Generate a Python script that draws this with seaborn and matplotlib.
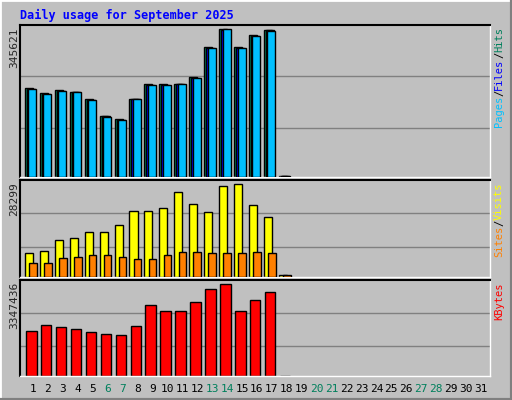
import matplotlib
matplotlib.use("Agg")
import matplotlib.pyplot as plt
import seaborn as sns
import numpy as np
from matplotlib.lines import Line2D

sns.set_style("white")
plt.rcParams['font.family'] = ['DejaVu Sans Mono']

days = list(range(1, 32))
hits = [208000,195500,203300,198600,182200,143900,135300,182200,217400,217400,217400,233800,303400,345621,303400,332300,345000,2000]
files = [206500,194000,201800,198000,180800,142500,134000,182000,216000,216000,217000,232300,302000,345000,302000,330800,343000,1500]
pages = [205700,193200,201000,198000,179900,141600,133000,182200,215100,215100,217400,231500,301100,345621,301100,330000,342700,1500]
visits = [7458,7867,11442,12055,13690,13690,15733,20024,20024,20943,25847,22169,19717,27686,28299,21863,18185,650]
sites = [4393,4393,5925,6232,6845,6845,6232,5619,5619,6845,7764,7764,7458,7458,7458,7764,7458,650]
kbytes = [1661500,1844700,1771400,1734800,1624900,1551500,1514900,1808100,2577800,2357900,2357900,2687700,3164200,3347436,2357900,2761000,3054200,12000]
weekend = [6,7,13,14,20,21,27,28]

W, H = 512, 400
fig = plt.figure(figsize=(W/100, H/100), dpi=100, facecolor="#C0C0C0")
fig.add_artist(Line2D([0,0],[0,1], transform=fig.transFigure, color="white", lw=2))
fig.add_artist(Line2D([0,1],[1,1], transform=fig.transFigure, color="white", lw=2))
fig.add_artist(Line2D([1,1],[0,1], transform=fig.transFigure, color="#808080", lw=3))
fig.add_artist(Line2D([0,1],[0,0], transform=fig.transFigure, color="#808080", lw=3))

fig.text(20/W, 1-15/H, "Daily usage for September 2025", color="#0000FF",
         fontsize=8.5, fontweight="bold", va="center", ha="left")

def mkax(top, bot):
    ax = fig.add_axes([20/W, 1-bot/H, 470/W, (bot-top)/H])
    ax.set_facecolor("#C0C0C0")
    ax.set_xlim(0.13, 31.61)
    ax.set_xticks([]); ax.set_yticks([])
    for s in ["top", "left"]:
        ax.spines[s].set_color("black"); ax.spines[s].set_linewidth(1.5)
    for s in ["right", "bottom"]:
        ax.spines[s].set_color("white"); ax.spines[s].set_linewidth(1)
    return ax

px = 1/14.93
ecol = "black"
d = np.arange(1, len(hits)+1)

ax1 = mkax(25, 177)
m1 = max(hits)
ax1.set_ylim(0, m1*455/442)
for g in (148/455, 301/455):
    ax1.axhline(g*m1*455/442, color="#808080", lw=1, zorder=0)
ax1.bar(d-4*px, hits, width=8*px, color="#00805C", edgecolor=ecol, lw=1, zorder=2)
ax1.bar(d-2*px, files, width=8*px, color="#0000FF", edgecolor=ecol, lw=1, zorder=3)
ax1.bar(d-0.5*px, pages, width=8*px, color="#00C0FF", edgecolor=ecol, lw=1, zorder=4)
fig.text(14/W, 1-27/H, str(m1), rotation=90, fontsize=8, va="top", ha="center")

ax2 = mkax(180, 277)
m2 = max(visits)
ax2.set_ylim(0, m2*290/277)
for g in (90/290, 190/290):
    ax2.axhline(g*m2*290/277, color="#808080", lw=1, zorder=0)
ax2.bar(d-4*px, visits, width=8*px, color="#FFFF00", edgecolor=ecol, lw=1, zorder=2)
ax2.bar(d+0*px, sites, width=7.5*px, color="#FF8000", edgecolor=ecol, lw=1, zorder=3)
fig.text(14/W, 1-182/H, str(m2), rotation=90, fontsize=8, va="top", ha="center")

ax3 = mkax(280, 376)
m3 = max(kbytes)
ax3.set_ylim(0, m3*287/274)
for g in (89/287, 187/287):
    ax3.axhline(g*m3*287/274, color="#808080", lw=1, zorder=0)
ax3.bar(d-1.7*px, kbytes, width=10.5*px, color="#FF0000", edgecolor=ecol, lw=1, zorder=2)
fig.text(14/W, 1-282/H, str(m3), rotation=90, fontsize=8, va="top", ha="center")

for dd in days:
    x = 20/W + (dd-0.13)*14.93/W
    fig.text(x, 1-389/H, str(dd), fontsize=8, ha="center", va="center",
             color="#00805C" if dd in weekend else "black")

def rlabel(top, parts, fs=7.5):
    char_h = 0.602*fs*100/72
    pos = top
    for text, col in reversed(parts):
        fig.text(499/W, 1-pos/H, text, rotation=90, fontsize=fs, color=col,
                 va="top", ha="center")
        pos += char_h*len(text)

rlabel(27, [("Pages", "#00C0FF"), ("/", "black"), ("Files", "#0000FF"), ("/", "black"), ("Hits", "#00805C")])
rlabel(182, [("Sites", "#FF8000"), ("/", "black"), ("Visits", "#FFFF00")])
rlabel(282, [("KBytes", "#FF0000")])

fig.savefig("out.png", dpi=100, facecolor=fig.get_facecolor())
